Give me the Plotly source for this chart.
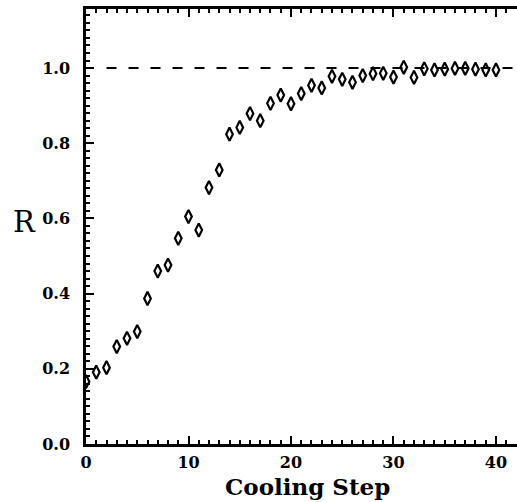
import plotly.graph_objects as go

steps = list(range(41))
r_values = [0.166, 0.191, 0.203, 0.259, 0.281, 0.299, 0.387, 0.460, 0.476, 0.547,
            0.605, 0.569, 0.682, 0.729, 0.824, 0.842, 0.879, 0.860, 0.906, 0.928,
            0.905, 0.932, 0.954, 0.947, 0.978, 0.970, 0.962, 0.980, 0.985, 0.986,
            0.976, 1.002, 0.975, 0.998, 0.995, 0.997, 0.999, 0.999, 0.997, 0.995,
            0.995]
ref_x = [2, 42.05]
ref_y = [1.0, 1.0]
x_ticks = [0, 10, 20, 30, 40]
y_ticks = [0.0, 0.2, 0.4, 0.6, 0.8, 1.0]

W, H = 517, 502
ML, MR, MT, MB = 86, 0, 9, 58

fig = go.Figure()
fig.add_trace(go.Scatter(x=ref_x, y=ref_y, mode="lines",
                         line=dict(color="black", width=2, dash="10px,12px"),
                         hoverinfo="skip", showlegend=False))
fig.add_trace(go.Scatter(x=steps, y=r_values, mode="markers",
                         marker=dict(symbol="diamond-tall-open", size=9.5, color="black",
                                     line=dict(color="black", width=2.2)),
                         showlegend=False))

font_tick = dict(family="DejaVu Serif", size=16, color="black", weight="bold")

fig.update_xaxes(range=[0, 42.05], tickvals=x_ticks, ticktext=[str(v) for v in x_ticks],
                 ticks="inside", ticklen=8, tickwidth=2, tickcolor="black",
                 showline=True, linewidth=2.5, linecolor="black", mirror="ticks",
                 showgrid=False, zeroline=False, tickfont=font_tick, ticklabelstandoff=2,
                 minor=dict(dtick=1, ticks="inside", ticklen=4, tickwidth=1.5, tickcolor="black", showgrid=False))
fig.update_yaxes(range=[0, 1.157], tickvals=y_ticks, ticktext=[f"{v:.1f}" for v in y_ticks],
                 ticks="inside", ticklen=8, tickwidth=2, tickcolor="black",
                 showline=True, linewidth=2.5, linecolor="black", mirror=False,
                 showgrid=False, zeroline=False, tickfont=font_tick, ticklabelstandoff=10,
                 minor=dict(dtick=0.02, ticks="inside", ticklen=4, tickwidth=1.5, tickcolor="black", showgrid=False))

pw = W - ML - MR
ph = H - MT - MB
fig.add_annotation(text="Cooling Step", xref="paper", yref="paper",
                   x=(307 - ML) / pw, y=-(487 - (H - MB)) / ph,
                   showarrow=False, xanchor="center", yanchor="middle",
                   font=dict(family="DejaVu Serif", size=23, color="black", weight="bold"))
fig.add_annotation(text="R", xref="paper", yref="paper",
                   x=-(ML - 24) / pw, y=((H - MB) - 222) / ph,
                   showarrow=False, xanchor="center", yanchor="middle",
                   font=dict(family="DejaVu Serif", size=29, color="black"))

fig.update_layout(width=W, height=H, margin=dict(l=ML, r=MR, t=MT, b=MB),
                  paper_bgcolor="white", plot_bgcolor="white")
fig.write_html("out.html")
